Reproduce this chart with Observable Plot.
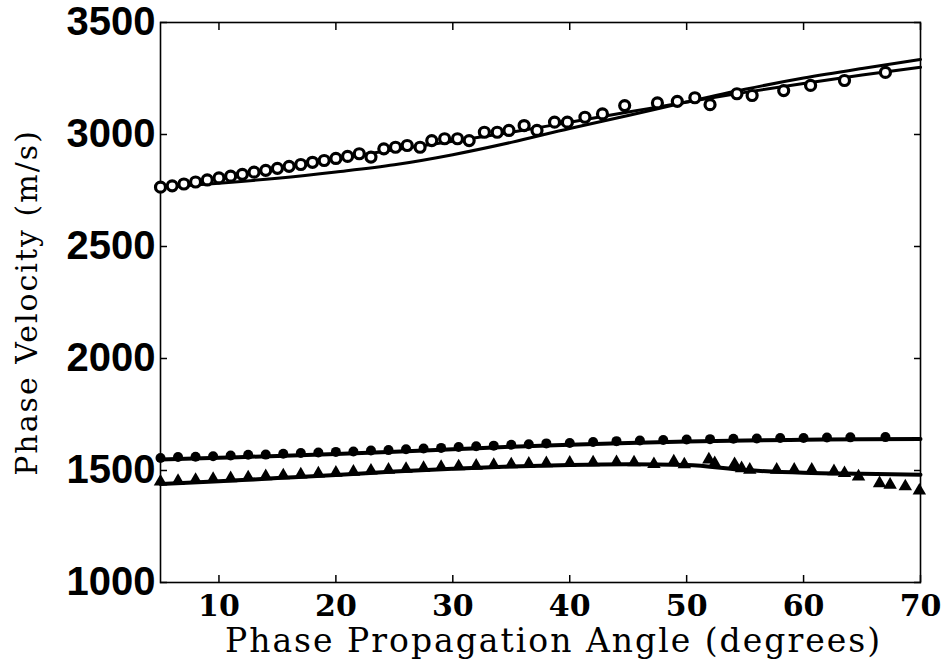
<!DOCTYPE html>
<html>
<head>
<meta charset="utf-8">
<script src="https://cdn.jsdelivr.net/npm/d3@7"></script>
<script src="https://cdn.jsdelivr.net/npm/@observablehq/plot@0.6"></script>
<style>
  body { margin: 0; background: #fff; }
  text[aria-label="x title"], g[aria-label="x title"] text { letter-spacing: 2px; }
  g[aria-label="y-axis label"] text { letter-spacing: 2px; }
</style>
</head>
<body>
<div id="chart"></div>
<script>
// Axis ticks
const xTicks = [10, 20, 30, 40, 50, 60, 70];
const yTicks = [1000, 1500, 2000, 2500, 3000, 3500];

// Model curves, sampled every 5 degrees
const curveAngles = [5, 10, 15, 20, 25, 30, 35, 40, 45, 50, 55, 60, 65, 70];
const fastModelA = [2763, 2782, 2805, 2833, 2865, 2910, 2965, 3027, 3085, 3145, 3202, 3252, 3295, 3335];
const fastModelB = [2763, 2805, 2848, 2892, 2932, 2970, 3010, 3055, 3100, 3145, 3188, 3228, 3266, 3300];
const midModel   = [1549, 1557, 1565, 1574, 1584, 1595, 1606, 1615, 1623, 1629, 1634, 1637, 1640, 1641];
const slowModel  = [1440, 1452, 1466, 1480, 1495, 1508, 1518, 1525, 1528, 1524, 1502, 1490, 1485, 1481];

// Measured fast-wave velocities (open circles)
const fastAngles = [5, 6, 7, 8, 9, 10, 11, 12, 13, 14, 15, 16, 17, 18, 19, 20, 21, 22, 23, 24.1, 25.1, 26.1, 27.2, 28.2, 29.3, 30.4, 31.4, 32.7, 33.8, 34.8, 36.1, 37.2, 38.7, 39.8, 41.3, 42.8, 44.7, 47.5, 49.2, 50.7, 52.0, 54.3, 55.6, 58.3, 60.6, 63.5, 67.0];
const fastVel    = [2765, 2771, 2779, 2788, 2797, 2806, 2814, 2822, 2832, 2840, 2849, 2858, 2866, 2876, 2884, 2893, 2902, 2914, 2899, 2936, 2943, 2951, 2943, 2973, 2981, 2981, 2973, 3010, 3010, 3018, 3040, 3018, 3055, 3055, 3077, 3092, 3129, 3141, 3148, 3164, 3133, 3182, 3174, 3196, 3219, 3241, 3277];

// Measured intermediate velocities (filled circles)
const midAngles = [5, 6.5, 8, 9.5, 11, 12.5, 14, 15.5, 17, 18.5, 20, 21.5, 23, 24.5, 26, 27.5, 29, 30.5, 32, 33.5, 35, 36.5, 38, 40, 42, 44, 46, 48, 50, 52, 54, 56, 58, 60, 62, 64, 67];
const midVel    = [1556, 1560, 1561, 1564, 1567, 1570, 1571, 1575, 1578, 1580, 1583, 1585, 1589, 1591, 1595, 1598, 1601, 1605, 1608, 1611, 1615, 1617, 1621, 1623, 1627, 1631, 1634, 1636, 1638, 1640, 1642, 1643, 1645, 1645, 1647, 1648, 1649];

// Measured slow-wave velocities (filled triangles)
const slowAngles = [5, 6.5, 8, 9.5, 11, 12.5, 14, 15.5, 17, 18.5, 20, 21.5, 23, 24.5, 26, 27.5, 29, 30.5, 32, 33.5, 35, 36.5, 38, 40, 42, 44, 45.5, 47.2, 48.9, 49.8, 51.9, 52.4, 54.1, 54.7, 55.4, 57.7, 59.2, 60.7, 62.6, 63.5, 64.7, 66.5, 67.4, 68.7, 69.9];
const slowVel    = [1450, 1453, 1458, 1462, 1465, 1469, 1474, 1478, 1482, 1486, 1490, 1494, 1499, 1503, 1507, 1511, 1515, 1518, 1521, 1524, 1527, 1530, 1532, 1534, 1536, 1537, 1536, 1528, 1540, 1527, 1549, 1532, 1528, 1510, 1503, 1503, 1503, 1503, 1496, 1488, 1473, 1443, 1436, 1429, 1410];

const xTitle = "Phase Propagation Angle (degrees)";
const yTitle = "Phase Velocity (m/s)";

const toRows = (xs, ys) => xs.map((a, i) => ({angle: a, vel: ys[i]}));

const serif = "'DejaVu Serif', serif";
const sans = "'Liberation Sans', Arial, sans-serif";

const chart = Plot.plot({
  width: 945,
  height: 661,
  marginLeft: 160,
  marginRight: 25,
  marginTop: 22,
  marginBottom: 79,
  x: {domain: [5, 70]},
  y: {domain: [1000, 3500]},
  style: {background: "white", color: "black", overflow: "visible"},
  marks: [
    Plot.frame({stroke: "black", strokeWidth: 1.6}),

    // tick labels and inward ticks
    Plot.axisY({ticks: yTicks, anchor: "left", tickSize: -7, tickPadding: 12, label: null,
      tickFormat: d => String(d), fontFamily: sans, fontSize: 40, fontWeight: "bold", strokeWidth: 1.5}),
    Plot.axisY({ticks: yTicks, anchor: "right", tickSize: -7, tickFormat: () => "", label: null, strokeWidth: 1.5}),
    Plot.axisX({ticks: xTicks, anchor: "bottom", tickSize: -7, tickPadding: 19, label: null,
      tickFormat: d => String(d), fontFamily: serif, fontSize: 30, fontWeight: "bold", strokeWidth: 1.5}),
    Plot.axisX({ticks: xTicks, anchor: "top", tickSize: -7, tickFormat: () => "", label: null, strokeWidth: 1.5}),

    // axis titles
    Plot.text([xTitle], {text: d => d, frameAnchor: "bottom", lineAnchor: "bottom", dy: 69, dx: 13,
      fontFamily: serif, fontSize: 33, fill: "black", ariaLabel: () => "x title"}),
    Plot.axisY({ticks: [], anchor: "left", label: yTitle, labelAnchor: "center",
      labelArrow: "none", labelOffset: 145, fontFamily: serif, fontSize: 30}),

    // model curves
    Plot.line(toRows(curveAngles, fastModelA), {x: "angle", y: "vel", curve: "monotone-x", stroke: "black", strokeWidth: 3}),
    Plot.line(toRows(curveAngles, fastModelB), {x: "angle", y: "vel", curve: "monotone-x", stroke: "black", strokeWidth: 3}),
    Plot.line(toRows(curveAngles, midModel), {x: "angle", y: "vel", curve: "monotone-x", stroke: "black", strokeWidth: 4}),
    Plot.line(toRows(curveAngles, slowModel), {x: "angle", y: "vel", curve: "monotone-x", stroke: "black", strokeWidth: 4}),

    // measurements
    Plot.dot(toRows(fastAngles, fastVel), {x: "angle", y: "vel", r: 5, stroke: "black", strokeWidth: 3.2, fill: "white"}),
    Plot.dot(toRows(midAngles, midVel), {x: "angle", y: "vel", r: 5, fill: "black", stroke: "none"}),
    Plot.dot(toRows(slowAngles, slowVel), {x: "angle", y: "vel", symbol: "triangle", r: 5, fill: "black", stroke: "none"})
  ]
});

document.getElementById("chart").append(chart);
</script>
</body>
</html>
